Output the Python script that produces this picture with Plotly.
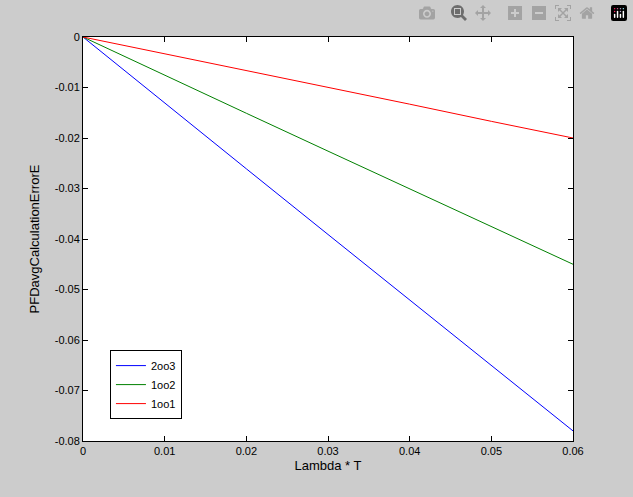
import plotly.graph_objects as go

x = [0, 0.01, 0.02, 0.03, 0.04, 0.05, 0.06]
e_2oo3 = [0, -0.0131, -0.0261, -0.0391, -0.0521, -0.0651, -0.0780]
e_1oo2 = [0, -0.0076, -0.0151, -0.0226, -0.0301, -0.0376, -0.0450]
e_1oo1 = [0, -0.0033, -0.0067, -0.0100, -0.0133, -0.0167, -0.0200]
names = ["2oo3", "1oo2", "1oo1"]
colors = ["#0000ff", "#008000", "#ff0000"]

fig = go.Figure()
for n, ys, c in zip(names, [e_2oo3, e_1oo2, e_1oo1], colors):
    fig.add_trace(go.Scatter(x=x, y=ys, name=n, mode="lines", line=dict(color=c, width=1)))

ax = dict(showgrid=False, zeroline=False, showline=True, linecolor="black", linewidth=1,
          mirror="ticks", ticks="inside", ticklen=5, tickcolor="black",
          tickfont=dict(family="Liberation Sans, Arial", size=11, color="black"))
fig.update_layout(
    width=633, height=497, margin=dict(l=83, r=60, t=37, b=56),
    paper_bgcolor="#cccccc", plot_bgcolor="white",
    font=dict(family="Liberation Sans, Arial", size=11, color="black"),
    xaxis=dict(ax, range=[0, 0.06], tickvals=x, ticktext=["0", "0.01", "0.02", "0.03", "0.04", "0.05", "0.06"],
               title=dict(text="Lambda * T", standoff=4)),
    yaxis=dict(ax, range=[-0.08, 0],
               tickvals=[-0.08, -0.07, -0.06, -0.05, -0.04, -0.03, -0.02, -0.01, 0],
               ticktext=["-0.08", "-0.07", "-0.06", "-0.05", "-0.04", "-0.03", "-0.02", "-0.01", "0"],
               title=dict(text="PFDavgCalculationErrorE", standoff=12)),
    legend=dict(x=0.055, y=0.225, xanchor="left", yanchor="top", bgcolor="white",
                bordercolor="black", borderwidth=1, font=dict(size=11), tracegroupgap=0),
    showlegend=True,
)
fig.write_html("out.html",
               post_script="document.body.style.margin='0';document.body.style.background='#cccccc';")
